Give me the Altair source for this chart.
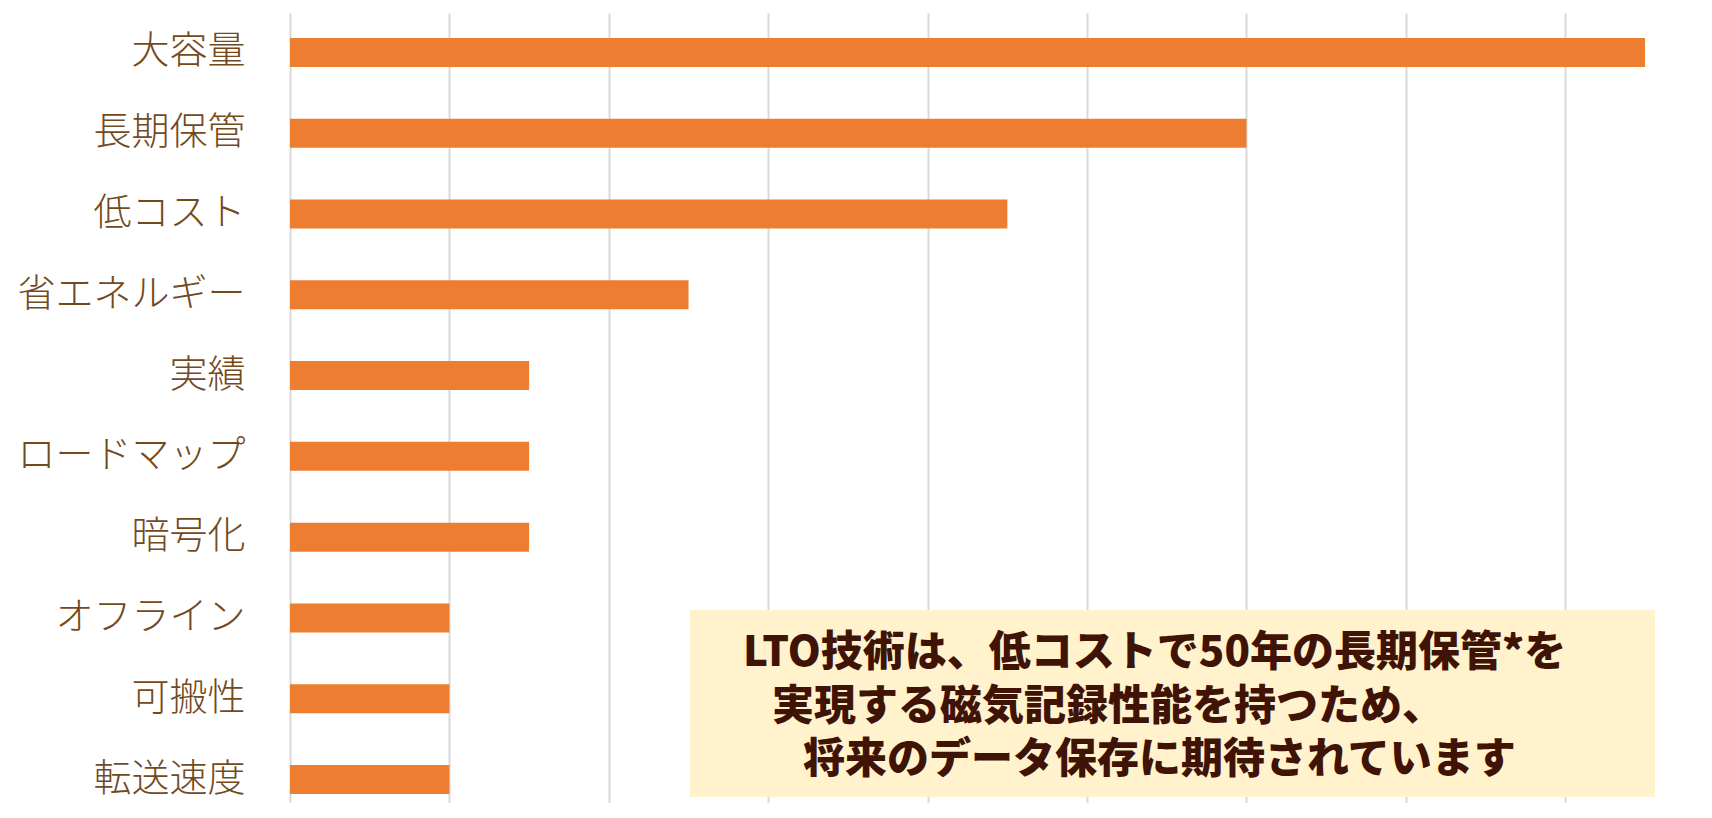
import altair as alt
import pandas as pd

# ---- data ----
categories = ["大容量", "長期保管", "低コスト", "省エネルギー", "実績",
              "ロードマップ", "暗号化", "オフライン", "可搬性", "転送速度"]
values = [17, 12, 9, 5, 3, 3, 3, 2, 2, 2]
tick_values = [0, 2, 4, 6, 8, 10, 12, 14, 16]
note_lines = [
    "LTO技術は、低コストで50年の長期保管*を",
    "実現する磁気記録性能を持つため、",
    "将来のデータ保存に期待されています",
]

df = pd.DataFrame({"category": categories, "value": values})

# ---- layout constants (pixels, relative to plot area) ----
W, H = 1414, 790
BOX = dict(x=400, x2=1365, y=597, y2=784)
LINE_X = [453, 482, 513]
LINE_Y = [640, 694, 747]

bars = alt.Chart(df).mark_bar(color="#ED7D31").encode(
    x=alt.X(
        "value:Q",
        scale=alt.Scale(domain=[0, 17.74], nice=False, zero=True),
        axis=alt.Axis(values=tick_values, grid=True, gridColor="#D9D9D9",
                      gridWidth=2, labels=False, ticks=False, domain=False,
                      title=None),
    ),
    y=alt.Y(
        "category:N",
        sort=categories,
        scale=alt.Scale(paddingInner=0.641, paddingOuter=0.21, align=0.735),
        axis=alt.Axis(title=None, ticks=False, domain=False,
                      labelFontSize=38, labelColor="#734a1e",
                      labelFont="Noto Sans CJK JP", labelFontWeight=300,
                      labelPadding=45, labelLimit=400),
    ),
)

one = pd.DataFrame({"a": [0]})
box = alt.Chart(one).mark_rect(color="#FFF2CC").encode(
    x=alt.value(BOX["x"]), x2=alt.value(BOX["x2"]),
    y=alt.value(BOX["y"]), y2=alt.value(BOX["y2"]),
)

texts = []
for line, lx, ly in zip(note_lines, LINE_X, LINE_Y):
    texts.append(
        alt.Chart(one).mark_text(
            text=line, align="left", baseline="middle", fontSize=42,
            fontWeight=900, font="Noto Sans CJK JP", color="#3F1306",
        ).encode(x=alt.value(lx), y=alt.value(ly))
    )

chart = alt.layer(bars, box, *texts).properties(
    width=W, height=H,
    padding={"left": 282, "top": 5, "right": 0, "bottom": 0},
    autosize=alt.AutoSizeParams(type="none"),
    background="white",
).configure_view(stroke=None)

chart.save("out.html", embed_options={"renderer": "svg", "actions": False})
